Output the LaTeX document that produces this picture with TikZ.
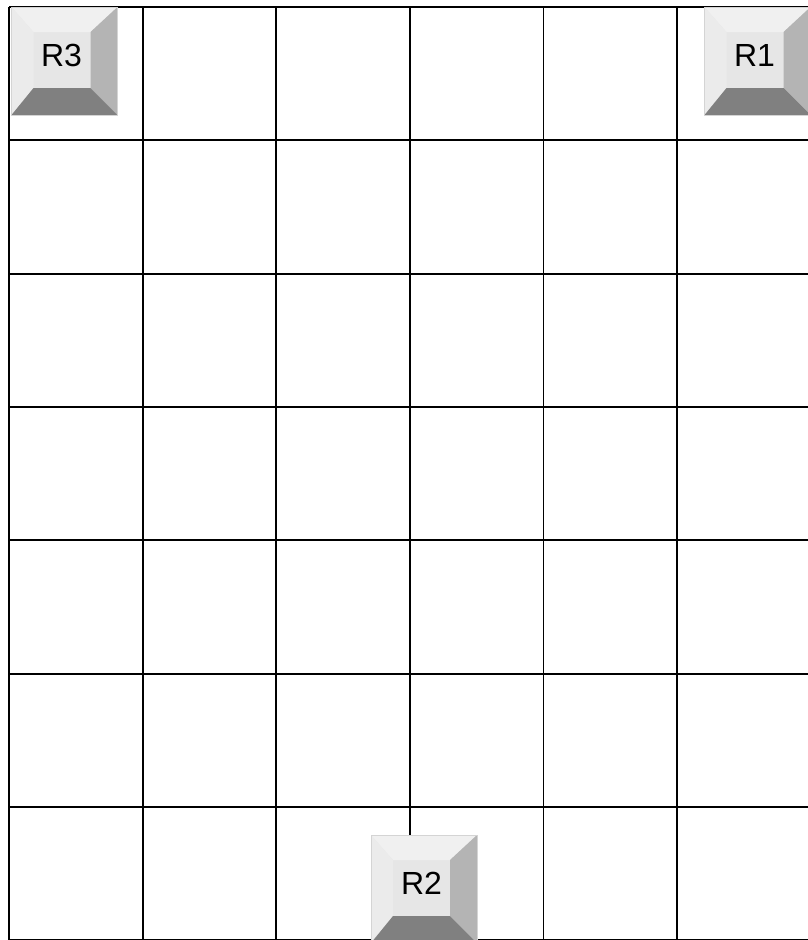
\documentclass[tikz,border=0pt]{standalone}
\usepackage{fontspec}
\setmainfont{Liberation Sans}
\usetikzlibrary{calc}
\definecolor{keyface}{HTML}{E6E6E6}
\definecolor{keytop}{HTML}{F0F0F0}
\definecolor{keyleft}{HTML}{EBEBEB}
\definecolor{keyright}{HTML}{B4B4B4}
\definecolor{keybottom}{HTML}{808080}
\definecolor{keyedge}{HTML}{D4D4D4}
\newcommand{\keyfont}{\fontsize{32}{38}\selectfont}
\tikzset{
  gridline/.style={draw=black, line width=1.8pt},
  keybox/.style={
    minimum width=106pt, minimum height=108pt, inner sep=0pt, outer sep=0pt,
    text height=23pt, text depth=12pt, font=\keyfont, text=black,
    draw=keyedge, line width=0.5pt,
    path picture={
      \coordinate (kbnw) at (path picture bounding box.north west);
      \coordinate (kbne) at (path picture bounding box.north east);
      \coordinate (kbsw) at (path picture bounding box.south west);
      \coordinate (kbse) at (path picture bounding box.south east);
      \coordinate (kbinw) at ([xshift=22pt,yshift=-25pt]kbnw);
      \coordinate (kbine) at ([xshift=-27pt,yshift=-25pt]kbne);
      \coordinate (kbisw) at ([xshift=22pt,yshift=27pt]kbsw);
      \coordinate (kbise) at ([xshift=-27pt,yshift=27pt]kbse);
      \fill[keyface] (kbnw) rectangle (kbse);
      \fill[keytop] (kbnw) -- (kbne) -- (kbine) -- (kbinw) -- cycle;
      \fill[keyleft] (kbnw) -- (kbinw) -- (kbisw) -- (kbsw) -- cycle;
      \fill[keyright] (kbne) -- (kbse) -- (kbise) -- (kbine) -- cycle;
      \fill[keybottom] (kbsw) -- (kbisw) -- (kbise) -- (kbse) -- cycle;
    }
  }
}
\begin{document}
\begin{tikzpicture}[x=1pt,y=-1pt]
\useasboundingbox (0,0) rectangle (807,940);
\fill[white] (0,0) rectangle (807,940);
% grid: 6 columns x 7 rows
\foreach \gx in {9,142.6,276.2,409.8,543.4,677,810.6}
  \draw[gridline] (\gx,7) -- (\gx,940);
\foreach \gy in {7,140.3,273.6,407,540.3,673.6,807,940}
  \draw[gridline] (9,\gy) -- (810.6,\gy);
% keys
\node[keybox] (R3) at (64.5,61) {R3\kern6pt};
\node[keybox] (R1) at (757.5,61) {R1\kern6pt};
\node[keybox] (R2) at (424,889) {R2\kern5pt};
\end{tikzpicture}
\end{document}
